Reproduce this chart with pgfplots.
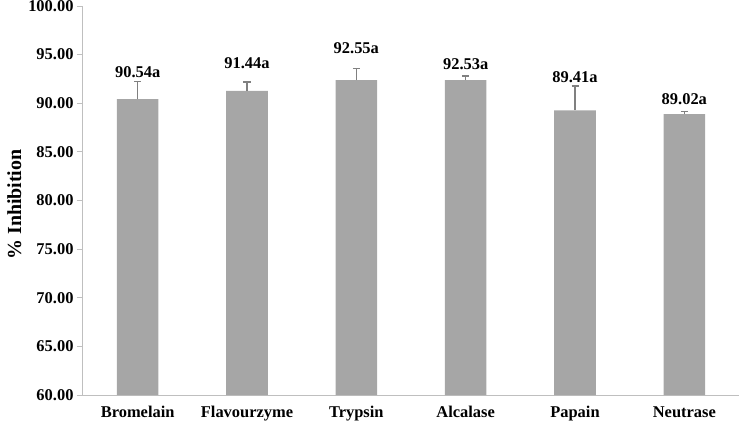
\documentclass[border=0pt]{standalone}
\usepackage{fontspec}
\setmainfont{Liberation Serif}
\usepackage{pgfplots}
\pgfplotsset{compat=1.18}
\definecolor{barc}{HTML}{A6A6A6}
\definecolor{axc}{HTML}{BFBFBF}
\definecolor{errc}{HTML}{808080}
\begin{document}
\begin{tikzpicture}
\begin{axis}[
  scale only axis, width=656bp, height=389bp,
  xmin=-0.5, xmax=5.5, ymin=60, ymax=100,
  axis x line*=bottom, axis y line*=left,
  axis line style={axc, line width=1bp, -},
  tick align=outside,
  ytick={60,65,...,100},
  major tick length=6bp,
  y tick style={axc, line width=1bp},
  yticklabel style={/pgf/number format/.cd, fixed, fixed zerofill, precision=2},
  /pgf/number format/assume math mode=true,
  xtick={0,...,5},
  xticklabels={Bromelain,Flavourzyme,Trypsin,Alcalase,Papain,Neutrase},
  xticklabel style={yshift=-2bp},
  x tick style={draw=none},
  extra x ticks={-0.5,0.5,1.5,2.5,3.5,4.5,5.5},
  extra x tick labels={},
  extra x tick style={x tick style={axc, line width=1bp}},
  tick label style={font=\fontsize{16.5}{19}\selectfont\bfseries, black},
  ylabel={\% Inhibition},
  ylabel style={font=\fontsize{20}{22}\selectfont\bfseries, xshift=-4bp},
  clip=true,
]
\coordinate (bl) at (rel axis cs:0,0);
\coordinate (tr) at (rel axis cs:1,1);
\addplot[ybar, bar width=0.38, fill=barc, draw=none,
  error bars/.cd, y dir=plus, y explicit,
  error bar style={errc, line width=1.3bp},
  error mark options={errc, line width=1.3bp, mark size=3.5bp, rotate=90}]
  coordinates {
    (0,90.42) +- (0,1.85)
    (1,91.27) +- (0,0.93)
    (2,92.38) +- (0,1.20)
    (3,92.38) +- (0,0.41)
    (4,89.26) +- (0,2.50)
    (5,88.88) +- (0,0.27)
  };
\addplot[only marks, mark=none, nodes near coords, point meta=explicit symbolic,
  nodes near coords style={anchor=center, font=\fontsize{16.5}{19}\selectfont\bfseries, black}]
  coordinates {
    (0,93.20) [90.54a]
    (1,94.15) [91.44a]
    (2,95.63) [92.55a]
    (3,94.02) [92.53a]
    (4,92.71) [89.41a]
    (5,90.39) [89.02a]
  };
\end{axis}
\pgfresetboundingbox
\path[use as bounding box] ([xshift=-83bp,yshift=-27bp]bl) rectangle ([xshift=3bp,yshift=6bp]tr);
\end{tikzpicture}
\end{document}
